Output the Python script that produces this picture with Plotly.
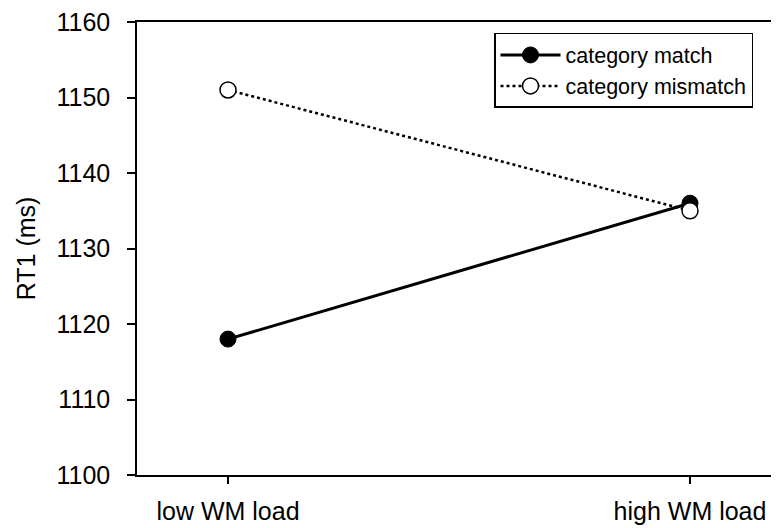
import plotly.graph_objects as go

categories = ["low WM load", "high WM load"]
cat_pos = [0, 1]
match_rt = [1118, 1136]
mismatch_rt = [1151, 1135]
y_ticks = [1100, 1110, 1120, 1130, 1140, 1150, 1160]

FONT = "Liberation Sans, Arial, sans-serif"

# the page body adds an 8px offset; the figure is sized to fit the window after that offset
W, H = 771, 520
L, T, B, R = 129, 12, 53, 0
plot_w = W - L - R
plot_h = H - T - B

fig = go.Figure()
fig.add_trace(go.Scatter(
    x=cat_pos, y=match_rt, name="category match", mode="lines+markers",
    line=dict(color="black", width=3),
    marker=dict(symbol="circle", size=16, color="black", line=dict(color="black", width=1)),
))
fig.add_trace(go.Scatter(
    x=cat_pos, y=mismatch_rt, name="category mismatch", mode="lines+markers",
    line=dict(color="black", width=2.5, dash="dot"),
    marker=dict(symbol="circle", size=16, color="white", line=dict(color="black", width=1.5)),
))

fig.update_layout(
    width=W, height=H,
    margin=dict(l=L, r=R, t=T, b=B),
    paper_bgcolor="white", plot_bgcolor="white",
    font=dict(family=FONT, size=25, color="black"),
    showlegend=True,
    legend=dict(
        x=(494 - 8 - L) / plot_w, y=1 - (31 - 8 - T) / plot_h,
        xanchor="left", yanchor="top",
        bordercolor="black", borderwidth=1.5, bgcolor="white",
        font=dict(family=FONT, size=21.5, color="black"),
        itemwidth=60, tracegroupgap=0,
    ),
    xaxis=dict(
        range=[-(228 - 137) / 462, 1 + (779 - 690) / 462],
        tickmode="array", tickvals=cat_pos, ticktext=categories,
        showline=True, linecolor="black", linewidth=1.5, mirror=True,
        ticks="outside", ticklen=7, tickcolor="black", tickwidth=1.5,
        showgrid=False, zeroline=False, ticklabelstandoff=6,
        ticklabeloverflow="allow",
        tickfont=dict(family=FONT, size=25),
    ),
    yaxis=dict(
        range=[1100, 1160], tickmode="array", tickvals=y_ticks,
        showline=True, linecolor="black", linewidth=1.5,
        ticks="outside", ticklen=8, tickcolor="black", tickwidth=1.5,
        showgrid=False, zeroline=False, ticklabelstandoff=12,
        ticklabeloverflow="allow",
        tickfont=dict(family=FONT, size=25),
        title=dict(text="RT1 (ms)", font=dict(family=FONT, size=25), standoff=14),
    ),
)

fig.write_html("out.html")
